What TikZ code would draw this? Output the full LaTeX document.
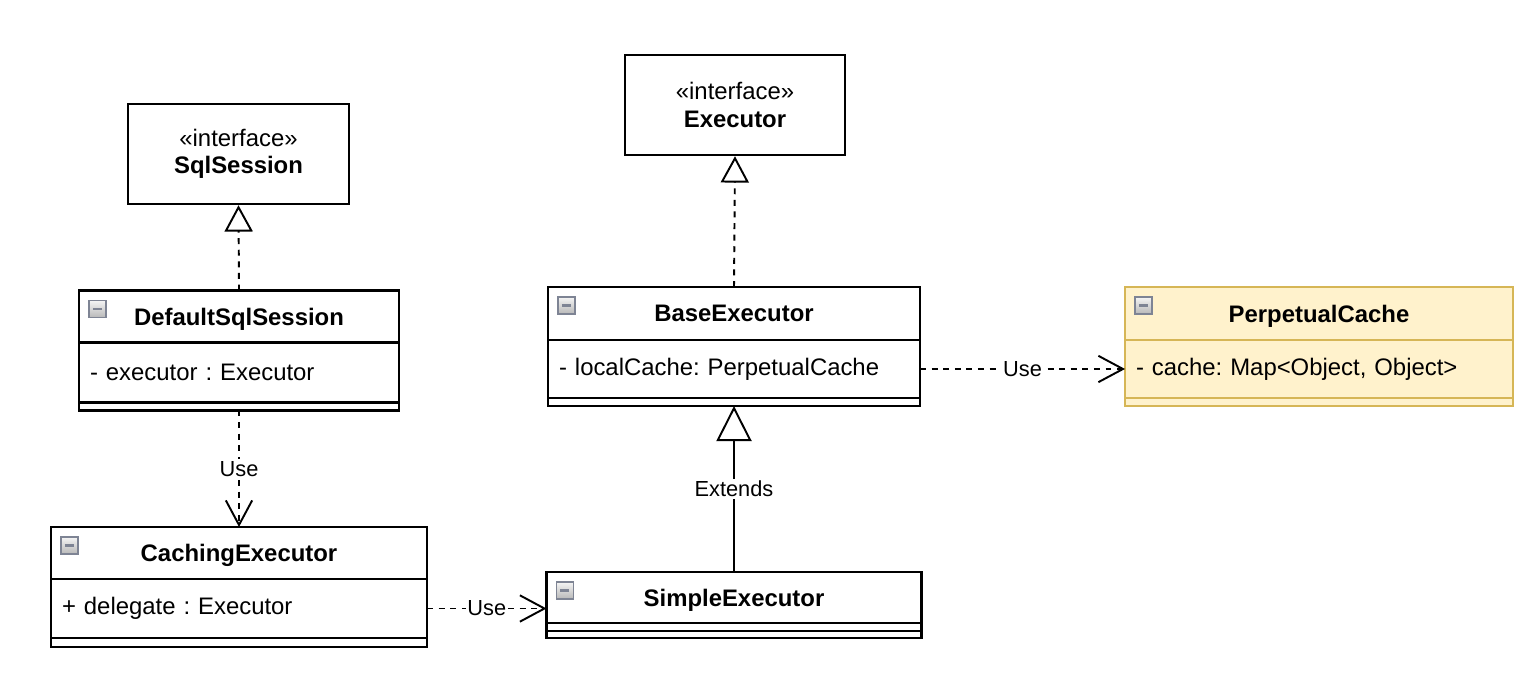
\documentclass[tikz,border=0pt]{standalone}
\usepackage{fontspec}
\setmainfont{Liberation Sans}
\usetikzlibrary{positioning, arrows.meta}
\definecolor{umlyellow}{HTML}{FFF2CC}
\definecolor{umlgold}{HTML}{D6B656}
\definecolor{toggleedge}{HTML}{7E8494}
\frenchspacing

\begin{document}
\begin{tikzpicture}[x=0.02cm, y=-0.02cm,
    iface/.style={rectangle, draw, line width=1.4pt, minimum width=4.42cm, minimum height=2cm, align=center, font=\fontsize{13.6}{15.5}\selectfont},
    classhead/.style={rectangle, draw, line width=1.4pt, outer sep=0pt, minimum width=#1, minimum height=1.04cm, text depth=-0.08cm, font=\fontsize{13.6}{16}\selectfont\bfseries},
    classattr/.style={rectangle, draw, line width=1.4pt, outer sep=0pt, text width=#1, inner xsep=0.22cm, minimum height=1.18cm, align=left, font=\fontsize{13.6}{16}\selectfont},
    classops/.style={rectangle, draw, line width=1.4pt, outer sep=0pt, inner sep=0pt, minimum width=#1, minimum height=0.16cm},
    cache/.style={fill=umlyellow, draw=umlgold},
    toggle/.style={rectangle, draw=toggleedge, line width=0.9pt, top color=gray!8, bottom color=gray!55, inner sep=0pt, minimum size=0.34cm, anchor=north west,
        path picture={\draw[line width=1.4pt] ([xshift=-2.6pt]path picture bounding box.center) -- ([xshift=2.6pt]path picture bounding box.center);}},
    lbl/.style={fill=white, inner sep=1pt, font=\fontsize{12.4}{14}\selectfont},
    realize/.style={dash pattern=on 3.4pt off 3.2pt, line width=1.1pt, -{Triangle[open, length=15pt, width=16pt]}},
    extend/.style={line width=1.1pt, -{Triangle[open, length=20pt, width=20pt]}},
    use/.style={dash pattern=on 3.4pt off 3.2pt, line width=1.1pt, -{Straight Barb[length=14pt, width=15pt, line width=1.1pt]}}
]
\useasboundingbox (0,0) rectangle (1534,690);

% interfaces
\node[iface] (sqlsession) at (238.5,154) {«interface»\\\textbf{SqlSession}};
\node[iface, minimum width=4.4cm] (executor) at (735,105) {«interface»\\\textbf{Executor}};

% DefaultSqlSession
\node[classhead=6.4cm] (dsshead) at (239,316.5) {DefaultSqlSession};
\node[classattr=5.96cm, minimum height=1.2cm, below=0pt of dsshead] (dssattr) {- executor : Executor};
\node[classops=6.4cm, below=0pt of dssattr] (dssops) {};
\node[toggle] at ([shift={(9,9)}]dsshead.north west) {};

% BaseExecutor
\node[classhead=7.44cm, minimum height=1.06cm] (basehead) at (734,313.5) {BaseExecutor};
\node[classattr=7.0cm, minimum height=1.16cm, below=0pt of basehead] (baseattr) {- localCache: PerpetualCache};
\node[classops=7.44cm, below=0pt of baseattr] (baseops) {};
\node[toggle] at ([shift={(9,9)}]basehead.north west) {};

% PerpetualCache
\node[classhead=7.76cm, minimum height=1.06cm, cache] (cachehead) at (1319,313.5) {PerpetualCache};
\node[classattr=7.32cm, minimum height=1.16cm, cache, below=0pt of cachehead] (cacheattr) {- cache: Map<Object, Object>};
\node[classops=7.76cm, cache, below=0pt of cacheattr] (cacheops) {};
\node[toggle] at ([shift={(9,9)}]cachehead.north west) {};

% CachingExecutor
\node[classhead=7.52cm] (cachinghead) at (239,553) {CachingExecutor};
\node[classattr=7.08cm, below=0pt of cachinghead] (cachingattr) {+ delegate : Executor};
\node[classops=7.52cm, minimum height=0.18cm, below=0pt of cachingattr] (cachingops) {};
\node[toggle] at ([shift={(9,9)}]cachinghead.north west) {};

% SimpleExecutor
\node[classhead=7.5cm, minimum height=1.02cm] (simplehead) at (734,597.5) {SimpleExecutor};
\node[classops=7.5cm, below=0pt of simplehead] (simpleattr) {};
\node[classops=7.5cm, minimum height=0.14cm, below=0pt of simpleattr] (simpleops) {};
\node[toggle] at ([shift={(9,9)}]simplehead.north west) {};

% relations
\draw[realize] (dsshead.north) -- (sqlsession.south);
\draw[realize] (basehead.north) -- (executor.south);
\draw[extend] (simplehead.north) -- node[lbl] {Extends} (baseops.south);
\draw[use] (dssops.south) -- node[lbl] {Use} (cachinghead.north);
\draw[use] (cachingattr.east) -- node[lbl] {Use} (cachingattr.east -| simplehead.west);
\draw[use] (baseattr.east) -- node[lbl] {Use} (cacheattr.west);
\end{tikzpicture}
\end{document}
